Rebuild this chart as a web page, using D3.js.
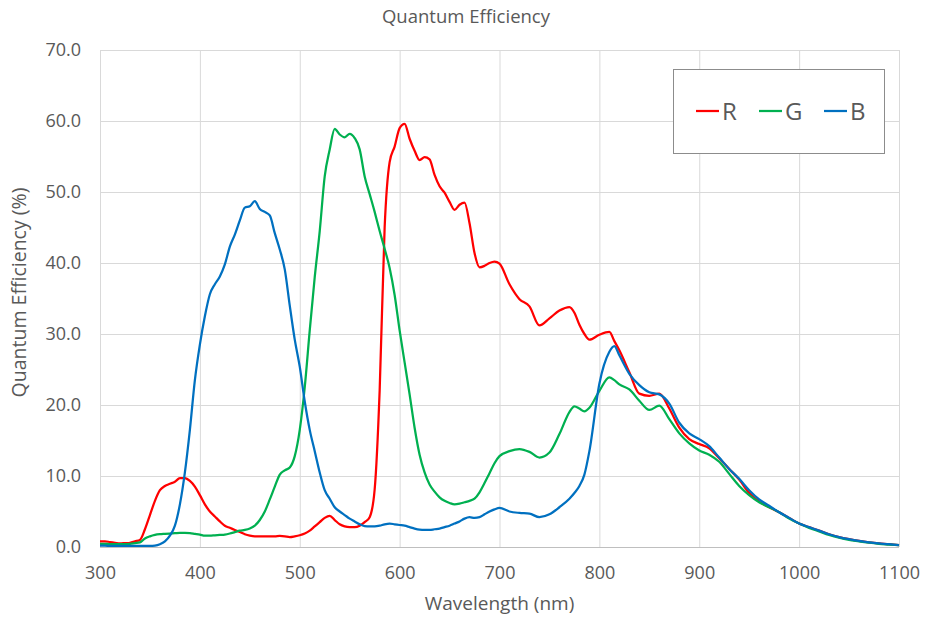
<!DOCTYPE html>
<html>
<head>
<meta charset="utf-8">
<script src="https://cdn.jsdelivr.net/npm/d3@7"></script>
<style>
  body { margin: 0; background: #fff; }
  svg { display: block; }
  text { font-family: "Open Sans", sans-serif; fill: #595959; }
</style>
</head>
<body>
<svg id="chart" width="925" height="620"></svg>
<script>
// ---- data ----
const wavelengths = [
  300,305,310,315,320,325,330,335,340,345,350,355,360,365,370,375,380,385,390,395,
  400,405,410,415,420,425,430,435,440,445,450,455,460,465,470,475,480,485,490,495,
  500,505,510,515,520,525,530,535,540,545,550,555,560,565,570,575,580,585,590,595,
  600,605,610,615,620,625,630,635,640,645,650,655,660,665,670,675,680,685,690,695,
  700,710,720,730,740,750,760,770,775,780,785,790,800,810,815,820,830,840,850,860,870,880,890,
  900,910,920,930,940,950,960,970,980,990,1000,1010,1020,1030,1040,1050,1060,1070,1080,1090,1100
];
const qeR = [
  0.8,0.8,0.7,0.6,0.5,0.55,0.6,0.8,1.0,2.5,4.5,6.5,8.0,8.6,8.9,9.2,9.7,9.7,9.3,8.5,
  7.3,6.0,5.0,4.3,3.6,3.0,2.7,2.4,2.1,1.8,1.6,1.5,1.5,1.5,1.5,1.5,1.55,1.5,1.4,1.5,
  1.65,1.9,2.3,2.9,3.5,4.1,4.4,3.8,3.2,2.9,2.8,2.8,3.0,3.5,4.2,8.1,22.0,45.0,54.2,56.4,
  59.0,59.6,57.5,55.8,54.5,54.9,54.6,52.4,50.8,49.9,48.6,47.5,48.2,48.5,45.6,41.4,39.4,39.6,40.0,40.2,
  39.9,37.0,34.9,33.9,31.2,32.2,33.3,33.8,33.0,31.3,30.0,29.2,29.9,30.3,29.0,27.7,24.6,21.6,21.3,21.6,19.5,16.8,15.2,
  14.5,13.9,12.5,11.0,9.5,7.6,6.4,5.6,4.9,4.1,3.3,2.8,2.3,1.8,1.4,1.1,0.85,0.65,0.5,0.4,0.25
];
const qeG = [
  0.45,0.45,0.4,0.4,0.4,0.4,0.45,0.55,0.65,1.2,1.5,1.7,1.8,1.85,1.9,1.95,2.0,2.0,1.95,1.85,
  1.75,1.6,1.6,1.65,1.7,1.75,1.9,2.1,2.3,2.4,2.6,3.0,3.8,5.0,6.7,8.5,10.2,10.8,11.2,12.8,
  16.5,22.5,30.5,38.0,44.5,52.2,56.0,58.9,58.1,57.7,58.2,57.6,56.0,52.2,49.7,47.2,44.5,42.0,39.3,35.5,
  30.5,26.0,21.5,16.8,13.0,10.5,8.8,7.8,7.0,6.5,6.2,6.0,6.1,6.3,6.5,6.8,7.7,9.0,10.4,11.8,
  12.8,13.5,13.8,13.4,12.6,13.3,15.9,19.0,19.8,19.5,19.1,19.6,22.0,23.9,23.5,22.9,22.2,20.6,19.3,19.9,18.0,16.0,14.6,
  13.6,13.0,12.0,10.3,8.6,7.3,6.3,5.6,4.9,4.0,3.3,2.7,2.2,1.7,1.3,1.0,0.8,0.6,0.45,0.35,0.25
];
const qeB = [
  0.2,0.2,0.15,0.15,0.15,0.15,0.15,0.15,0.15,0.15,0.15,0.2,0.4,0.8,1.6,3.0,6.0,10.5,16.5,23.5,
  28.5,32.5,35.6,37.0,38.1,39.8,42.3,44.0,46.0,47.8,48.0,48.7,47.6,47.2,46.7,44.2,41.9,39.1,34.0,29.2,
  25.4,20.5,16.5,13.5,10.5,8.0,6.8,5.6,5.0,4.5,4.0,3.6,3.2,2.95,2.9,2.9,3.0,3.2,3.3,3.2,
  3.1,3.0,2.8,2.6,2.45,2.4,2.4,2.5,2.6,2.8,3.0,3.3,3.6,4.0,4.2,4.1,4.2,4.6,5.0,5.3,
  5.5,5.0,4.8,4.7,4.2,4.6,5.6,6.8,7.6,8.6,10.2,13.5,23.0,27.5,28.3,27.0,24.4,22.8,21.8,21.5,20.2,17.5,16.0,
  15.2,14.2,12.6,11.0,9.6,8.0,6.7,5.8,4.9,4.1,3.3,2.8,2.3,1.8,1.4,1.1,0.85,0.65,0.5,0.4,0.25
];
const seriesNames = ["R", "G", "B"];
const seriesColors = ["#FF0000", "#00B050", "#0070C0"];
const xTicks = [300,400,500,600,700,800,900,1000,1100];
const yTicks = [0,10,20,30,40,50,60,70];
const chartTitle = "Quantum Efficiency";
const xTitle = "Wavelength (nm)";
const yTitle = "Quantum Efficiency (%)";

// ---- layout ----
const svg = d3.select("#chart");
const L = 100, R = 899, T = 50, B = 547;
const x = d3.scaleLinear().domain([300, 1100]).range([L, R]);
const y = d3.scaleLinear().domain([0, 70]).range([B, T]);

// gridlines
svg.append("g").selectAll("line.h").data(yTicks).join("line")
  .attr("x1", L).attr("x2", R)
  .attr("y1", d => y(d) + 0.5).attr("y2", d => y(d) + 0.5)
  .attr("stroke", "#d9d9d9").attr("stroke-width", 1);
svg.append("g").selectAll("line.v").data(xTicks).join("line")
  .attr("y1", T).attr("y2", B)
  .attr("x1", d => x(d) + 0.5).attr("x2", d => x(d) + 0.5)
  .attr("stroke", "#d9d9d9").attr("stroke-width", 1);
// bottom axis line
svg.append("line").attr("x1", L).attr("x2", R).attr("y1", B + 0.5).attr("y2", B + 0.5)
  .attr("stroke", "#bfbfbf").attr("stroke-width", 1);

// axes labels via d3 axes
const xAxis = d3.axisBottom(x).tickValues(xTicks).tickSize(0).tickPadding(19).tickFormat(d3.format("d"));
const gx = svg.append("g").attr("transform", `translate(0,${B})`).call(xAxis);
gx.select(".domain").remove();
gx.selectAll("text").attr("font-size", 18).attr("font-family", null).attr("fill", "#595959");

const yAxis = d3.axisLeft(y).tickValues(yTicks).tickSize(0).tickPadding(19).tickFormat(d3.format(".1f"));
const gy = svg.append("g").attr("transform", `translate(${L},0)`).call(yAxis);
gy.select(".domain").remove();
gy.selectAll("text").attr("font-size", 18).attr("font-family", null).attr("fill", "#595959");

// lines
const seriesData = [qeR, qeG, qeB];
const line = d3.line().x((d, i) => x(wavelengths[i])).y(d => y(d)).curve(d3.curveMonotoneX);
svg.append("g").selectAll("path").data(seriesData).join("path")
  .attr("d", d => line(d))
  .attr("fill", "none")
  .attr("stroke", (d, i) => seriesColors[i])
  .attr("stroke-width", 2.25)
  .attr("stroke-linejoin", "round");

// titles
svg.append("text").attr("x", 466).attr("y", 23).attr("text-anchor", "middle")
  .attr("font-size", 18.5).text(chartTitle);
svg.append("text").attr("x", (L + R) / 2).attr("y", 610).attr("text-anchor", "middle")
  .attr("font-size", 19).text(xTitle);
svg.append("text").attr("transform", `translate(26,${(T + B) / 2 - 6}) rotate(-90)`)
  .attr("text-anchor", "middle").attr("font-size", 19.5).text(yTitle);

// legend
const lg = svg.append("g");
lg.append("rect").attr("x", 673.5).attr("y", 69.5).attr("width", 211).attr("height", 84)
  .attr("fill", "#fff").attr("stroke", "#8c8c8c").attr("stroke-width", 1);
const legendX = [696, 759, 824];
seriesNames.forEach((n, i) => {
  lg.append("line").attr("x1", legendX[i]).attr("x2", legendX[i] + 23)
    .attr("y1", 111).attr("y2", 111)
    .attr("stroke", seriesColors[i]).attr("stroke-width", 2.25);
  lg.append("text").attr("x", legendX[i] + 26).attr("y", 120)
    .attr("font-size", 24).text(n);
});
</script>
</body>
</html>
